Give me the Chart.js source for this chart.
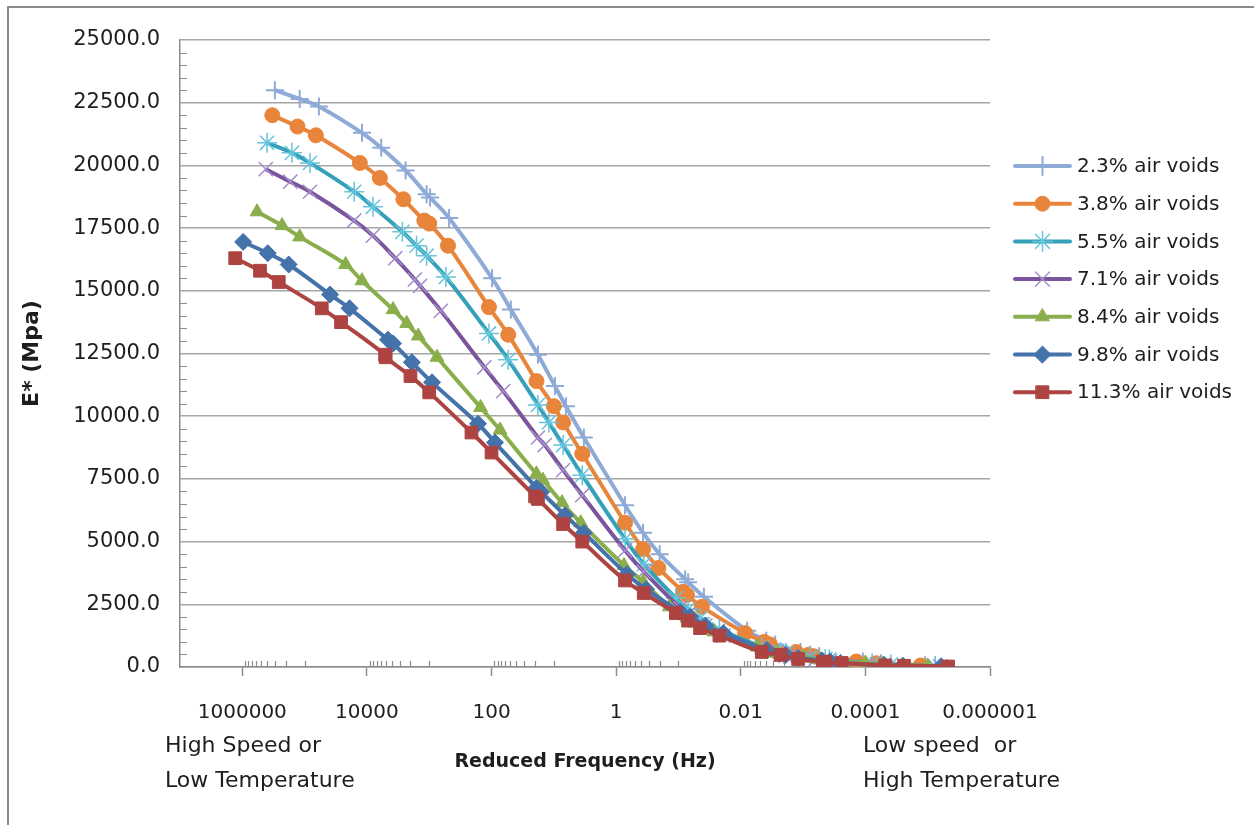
<!DOCTYPE html>
<html>
<head>
<meta charset="utf-8">
<title>E* master curves</title>
<script src="https://cdn.jsdelivr.net/npm/chart.js"></script>
<style>
  html, body { margin: 0; padding: 0; background: #fff; }
  #wrap { width: 1254px; height: 825px; }
</style>
</head>
<body>
<div id="wrap"><canvas id="myChart" width="1254" height="825"></canvas></div>
<script>
// reduced frequency (Hz) / E* (MPa) pairs
const freq23 = [3.0e5, 1.2e5, 5.9e4, 1.2e4, 5.9e3, 2.4e3, 1.1e3, 970, 480, 98, 49, 18, 9.6, 6.4, 3.3, 0.72, 0.37, 0.20, 0.078, 0.070, 0.039, 0.0079, 0.0039, 2.8e-3, 1.1e-3, 7.7e-4, 5.5e-4, 1.1e-4, 5.6e-5, 1.1e-5];
const mod23  = [23000, 22650, 22350, 21300, 20700, 19800, 18850, 18720, 17900, 15500, 14250, 12450, 11200, 10400, 9150, 6450, 5350, 4500, 3500, 3380, 2800, 1450, 1050, 900, 600, 500, 430, 220, 150, 70];

const freq38 = [3.3e5, 1.3e5, 6.6e4, 1.3e4, 6.2e3, 2.6e3, 1.2e3, 1.0e3, 500, 110, 54, 19, 10, 7.1, 3.5, 0.72, 0.37, 0.21, 0.084, 0.073, 0.042, 0.0085, 0.0042, 3.4e-3, 1.3e-3, 8.3e-4, 6.7e-4, 1.4e-4, 6.7e-5, 1.3e-5];
const mod38  = [22000, 21550, 21200, 20100, 19500, 18650, 17800, 17680, 16800, 14350, 13250, 11400, 10400, 9750, 8500, 5750, 4700, 3950, 3000, 2870, 2400, 1350, 1000, 900, 600, 480, 430, 220, 150, 60];

const freq55 = [4.0e5, 1.6e5, 8.2e4, 1.6e4, 8.0e3, 2.7e3, 1.6e3, 1.1e3, 540, 110, 54, 18, 12, 7.1, 3.5, 0.72, 0.36, 0.11, 0.070, 0.045, 0.022, 0.0046, 0.0023, 1.9e-3, 7.7e-4, 4.4e-4, 3.8e-4, 7.8e-5, 3.9e-5, 7.6e-6];
const mod55  = [20900, 20500, 20100, 18950, 18350, 17350, 16800, 16400, 15550, 13300, 12250, 10450, 9750, 8850, 7650, 5100, 4100, 2750, 2300, 1950, 1500, 800, 600, 560, 400, 320, 300, 150, 110, 40];

const freq71 = [4.2e5, 1.7e5, 8.2e4, 1.6e4, 8.0e3, 3.5e3, 1.7e3, 1.4e3, 650, 130, 65, 18, 14, 7.1, 3.5, 0.72, 0.36, 0.094, 0.070, 0.037, 0.019, 0.0038, 0.0019, 1.6e-3, 6.4e-4, 3.7e-4, 3.2e-4, 6.5e-5, 3.2e-5, 6.3e-6];
const mod71  = [19850, 19350, 18950, 17800, 17200, 16300, 15450, 15200, 14200, 11950, 11000, 9150, 8850, 7850, 6850, 4650, 3800, 2350, 2100, 1650, 1250, 620, 450, 420, 300, 230, 210, 110, 80, 30];

const freq84 = [5.8e5, 2.3e5, 1.2e5, 2.2e4, 1.2e4, 3.8e3, 2.3e3, 1.5e3, 750, 150, 73, 19, 15, 7.4, 3.7, 0.75, 0.37, 0.14, 0.073, 0.054, 0.027, 0.0055, 0.0027, 2.6e-3, 1.0e-3, 5.3e-4, 5.1e-4, 1.0e-4, 5.2e-5, 1.0e-5];
const mod84  = [18150, 17600, 17150, 16050, 15400, 14250, 13700, 13200, 12350, 10350, 9450, 7700, 7450, 6550, 5750, 4050, 3400, 2400, 1950, 1750, 1400, 800, 560, 540, 400, 290, 280, 160, 120, 40];

const freq98 = [9.7e5, 3.9e5, 1.8e5, 3.9e4, 1.9e4, 4.6e3, 3.8e3, 1.9e3, 900, 165, 88, 19, 16, 6.6, 3.3, 0.67, 0.33, 0.094, 0.065, 0.037, 0.019, 0.0038, 0.0019, 1.2e-3, 5.0e-4, 3.7e-4, 2.5e-4, 5.0e-5, 2.5e-5, 6.1e-6];
const mod98  = [16950, 16500, 16050, 14850, 14300, 13050, 12900, 12150, 11350, 9700, 8950, 7150, 6980, 6050, 5350, 3700, 3100, 2200, 2000, 1650, 1350, 680, 480, 360, 260, 220, 160, 80, 50, 30];

const freq113 = [1.3e6, 5.2e5, 2.6e5, 5.3e4, 2.6e4, 5.1e3, 5.0e3, 2.0e3, 1.0e3, 210, 100, 20, 18, 7.1, 3.5, 0.72, 0.36, 0.11, 0.070, 0.045, 0.022, 0.0046, 0.0023, 1.2e-3, 4.8e-4, 4.4e-4, 2.4e-4, 4.8e-5, 2.4e-5, 4.7e-6];
const mod113  = [16300, 15800, 15350, 14300, 13750, 12450, 12350, 11600, 10950, 9350, 8550, 6800, 6700, 5700, 5000, 3450, 2950, 2150, 1850, 1550, 1250, 600, 480, 320, 210, 190, 160, 60, 50, 20];

const seriesNames = ['2.3% air voids', '3.8% air voids', '5.5% air voids', '7.1% air voids',
                     '8.4% air voids', '9.8% air voids', '11.3% air voids'];
const xTickValues = [1000000, 10000, 100, 1, 0.01, 0.0001, 0.000001];
const yTickValues = [0, 2500, 5000, 7500, 10000, 12500, 15000, 17500, 20000, 22500, 25000];

const seriesData = [[freq23, mod23], [freq38, mod38], [freq55, mod55], [freq71, mod71],
                    [freq84, mod84], [freq98, mod98], [freq113, mod113]];

// look of each series (line colour, marker)
const looks = [
  { line: '#8eaad6', mark: '#8eaad6', fill: '#8eaad6', style: 'cross',    r: 9,   w: 2 },
  { line: '#e8853a', mark: '#e8853a', fill: '#e8853a', style: 'circle',   r: 7.5, w: 1 },
  { line: '#35a0b9', mark: '#63c4da', fill: '#63c4da', style: 'star',     r: 10,  w: 1.5 },
  { line: '#7a559d', mark: '#a58dcb', fill: '#a58dcb', style: 'crossRot', r: 10,  w: 1.5 },
  { line: '#8aae4b', mark: '#8aae4b', fill: '#8aae4b', style: 'triangle', r: 8,   w: 1 },
  { line: '#4472ab', mark: '#4472ab', fill: '#4472ab', style: 'rectRot',  r: 8.5, w: 1 },
  { line: '#ad4442', mark: '#ad4442', fill: '#ad4442', style: 'rect',     r: 9,   w: 1 }
];

const FONT = 'DejaVu Sans';
const TXT = '#1e1e1e';
const AXIS = '#8c8c8c';

const datasets = seriesData.map(function (pair, i) {
  const lk = looks[i];
  return {
    label: seriesNames[i],
    data: pair[0].map(function (f, j) { return { x: f, y: pair[1][j] }; }),
    borderColor: lk.line,
    borderWidth: 4,
    tension: 0.4,
    pointStyle: lk.style,
    pointRadius: lk.r,
    pointBorderColor: lk.mark,
    pointBackgroundColor: lk.fill,
    pointBorderWidth: lk.w,
    order: seriesData.length - 1 - i
  };
});

// small inside ticks on both axes
const minorTicks = {
  id: 'minorTicks',
  beforeDatasetsDraw(chart) {
    const c = chart.ctx, a = chart.chartArea, sx = chart.scales.x, sy = chart.scales.y;
    c.save();
    c.strokeStyle = AXIS;
    c.lineWidth = 1.2;
    c.beginPath();
    [5, 3, 1, -1, -3, -5].forEach(function (e) {
      for (let m = 1; m <= 9; m++) {
        const px = Math.round(sx.getPixelForValue(m * Math.pow(10, e))) + 0.5;
        c.moveTo(px, a.bottom);
        c.lineTo(px, a.bottom - 6);
      }
    });
    for (let v = 500; v < 25000; v += 500) {
      if (v % 2500 === 0) continue;
      const py = Math.round(sy.getPixelForValue(v)) + 0.5;
      c.moveTo(a.left, py);
      c.lineTo(a.left + 7, py);
    }
    c.stroke();
    c.restore();
  }
};

// excel style legend: line with marker in the middle
const lineLegend = {
  id: 'lineLegend',
  afterDraw(chart) {
    const c = chart.ctx;
    const x0 = 1015, x1 = 1070, top = 166, gap = 37.7;
    chart.data.datasets.forEach(function (ds, i) {
      const y = top + i * gap;
      c.save();
      c.strokeStyle = ds.borderColor;
      c.lineWidth = 4;
      c.lineCap = 'round';
      c.beginPath();
      c.moveTo(x0, y);
      c.lineTo(x1, y);
      c.stroke();
      if (Chart.helpers && Chart.helpers.drawPoint) {
        c.fillStyle = ds.pointBackgroundColor;
        c.strokeStyle = ds.pointBorderColor;
        c.lineWidth = ds.pointBorderWidth;
        Chart.helpers.drawPoint(c, { pointStyle: ds.pointStyle, radius: ds.pointRadius, rotation: 0, borderWidth: ds.pointBorderWidth }, (x0 + x1) / 2, y);
      }
      c.fillStyle = TXT;
      c.font = '20px "' + FONT + '"';
      c.textAlign = 'left';
      c.textBaseline = 'middle';
      c.fillText(ds.label, 1077, y + 1);
      c.restore();
    });
  }
};

// corner notes + frame
const notes = {
  id: 'notes',
  afterDraw(chart) {
    const c = chart.ctx;
    c.save();
    c.fillStyle = TXT;
    c.font = '22px "' + FONT + '"';
    c.textAlign = 'left';
    c.textBaseline = 'middle';
    c.fillText('High Speed or', 165, 746);
    c.fillText('Low Temperature', 165, 781);
    c.fillText('Low speed  or', 863, 746);
    c.fillText('High Temperature', 863, 781);
    c.strokeStyle = '#8a8a8a';
    c.lineWidth = 2;
    c.beginPath();
    c.moveTo(8, 825);
    c.lineTo(8, 7);
    c.lineTo(1254, 7);
    c.stroke();
    c.restore();
  }
};

const ctx = document.getElementById('myChart');

new Chart(ctx, {
  type: 'line',
  data: { datasets: datasets },
  options: {
    responsive: false,
    animation: false,
    devicePixelRatio: 1,
    layout: { padding: { top: 40, right: 264, bottom: 0, left: 0 } },
    plugins: {
      legend: { display: false },
      tooltip: { enabled: false }
    },
    scales: {
      x: {
        type: 'logarithmic',
        reverse: true,
        min: 0.000001,
        max: 10000000,
        afterBuildTicks: function (s) { s.ticks = xTickValues.map(function (v) { return { value: v }; }); },
        afterFit: function (s) { s.height = 158; },
        ticks: {
          autoSkip: false,
          maxRotation: 0,
          padding: 25,
          color: TXT,
          font: { family: FONT, size: 20 },
          callback: function (v) { return String(v); }
        },
        grid: { drawOnChartArea: false, drawTicks: true, tickLength: 9, tickColor: AXIS, tickWidth: 1.5 },
        border: { color: AXIS, width: 1.5 },
        title: {
          display: true,
          text: 'Reduced Frequency (Hz)',
          color: TXT,
          font: { family: FONT, size: 19, weight: 'bold' },
          padding: { top: 0, bottom: 52 }
        }
      },
      y: {
        min: 0,
        max: 25000,
        afterBuildTicks: function (s) { s.ticks = yTickValues.map(function (v) { return { value: v }; }); },
        afterFit: function (s) { s.width = 180; },
        ticks: {
          padding: 20,
          color: TXT,
          font: { family: FONT, size: 21 },
          callback: function (v) { return Number(v).toFixed(1); }
        },
        grid: { color: '#a6a6a6', lineWidth: 1.5, drawTicks: false },
        border: { color: AXIS, width: 1.5 },
        title: {
          display: true,
          text: 'E* (Mpa)',
          color: TXT,
          font: { family: FONT, size: 22, weight: 'bold' },
          padding: { top: 19, bottom: 0 }
        }
      }
    }
  },
  plugins: [minorTicks, lineLegend, notes]
});
</script>
</body>
</html>
